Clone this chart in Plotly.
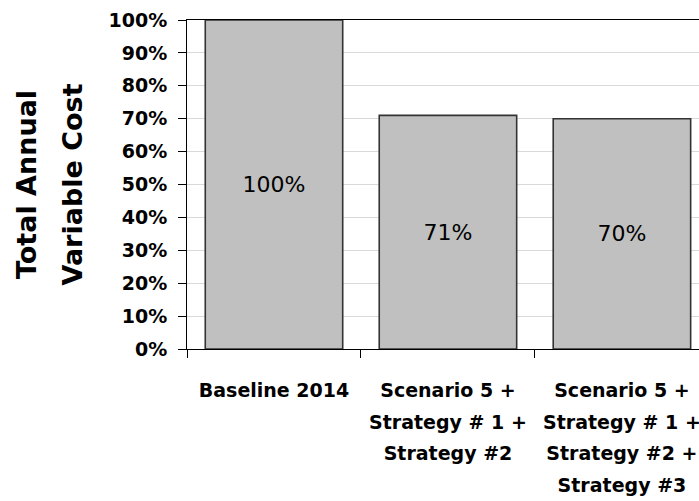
import plotly.graph_objects as go

categories = ["Baseline 2014",
              "Scenario 5 + Strategy # 1 + Strategy #2",
              "Scenario 5 + Strategy # 1 + Strategy #2 + Strategy #3"]
category_lines = [["Baseline 2014"],
                  ["Scenario 5 +", "Strategy # 1 +", "Strategy #2"],
                  ["Scenario 5 +", "Strategy # 1 +", "Strategy #2 +", "Strategy #3"]]
values = [1.00, 0.71, 0.70]
y_title_lines = ["Total Annual", "Variable Cost"]

FONT = "DejaVu Sans"

def spanned(lines, size):
    return "<br>".join(f"<span style='font-size:{size}px'>{t}</span>" for t in lines)

ticktext = [spanned(l, 19) for l in category_lines]

fig = go.Figure(go.Bar(
    x=categories, y=values,
    width=0.79,
    marker=dict(color="#C0C0C0", line=dict(color="#333333", width=1.6)),
    texttemplate="%{y:.0%}",
    textposition="inside", insidetextanchor="middle", textangle=0,
    constraintext="none",
    textfont=dict(family=FONT, size=22, color="black"),
    hoverinfo="skip",
))

fig.update_layout(
    width=699, height=501,
    margin=dict(l=187, r=0, t=20, b=152, autoexpand=False),
    paper_bgcolor="white", plot_bgcolor="white",
    showlegend=False,
    font=dict(family=FONT, color="black"),
    xaxis=dict(
        type="category", range=[-0.5, 2.443],
        tickmode="array", tickvals=categories, ticktext=ticktext,
        tickson="boundaries", ticks="outside", ticklen=8, tickwidth=1, tickcolor="black",
        showline=True, linecolor="black", linewidth=1, mirror=True,
        showgrid=False,
        tickfont=dict(family=FONT, size=24.3, color="black", weight="bold"),
        ticklabelstandoff=18,
        automargin=False,
    ),
    yaxis=dict(
        range=[0, 1], dtick=0.1, tickformat=".0%",
        ticks="outside", ticklen=8, tickwidth=1, tickcolor="black",
        showline=True, linecolor="black", linewidth=1,
        showgrid=True, gridcolor="#D9D9D9", gridwidth=1,
        zeroline=False,
        tickfont=dict(family=FONT, size=19, color="black", weight="bold"),
        ticklabelstandoff=7,
        title=dict(text=spanned(y_title_lines, 27), standoff=15,
                   font=dict(family=FONT, size=35, color="black", weight="bold")),
        automargin=False,
    ),
)

fig.write_html("out.html", config={"displayModeBar": False},
               post_script="document.body.style.margin='0';document.body.style.overflow='hidden';")
